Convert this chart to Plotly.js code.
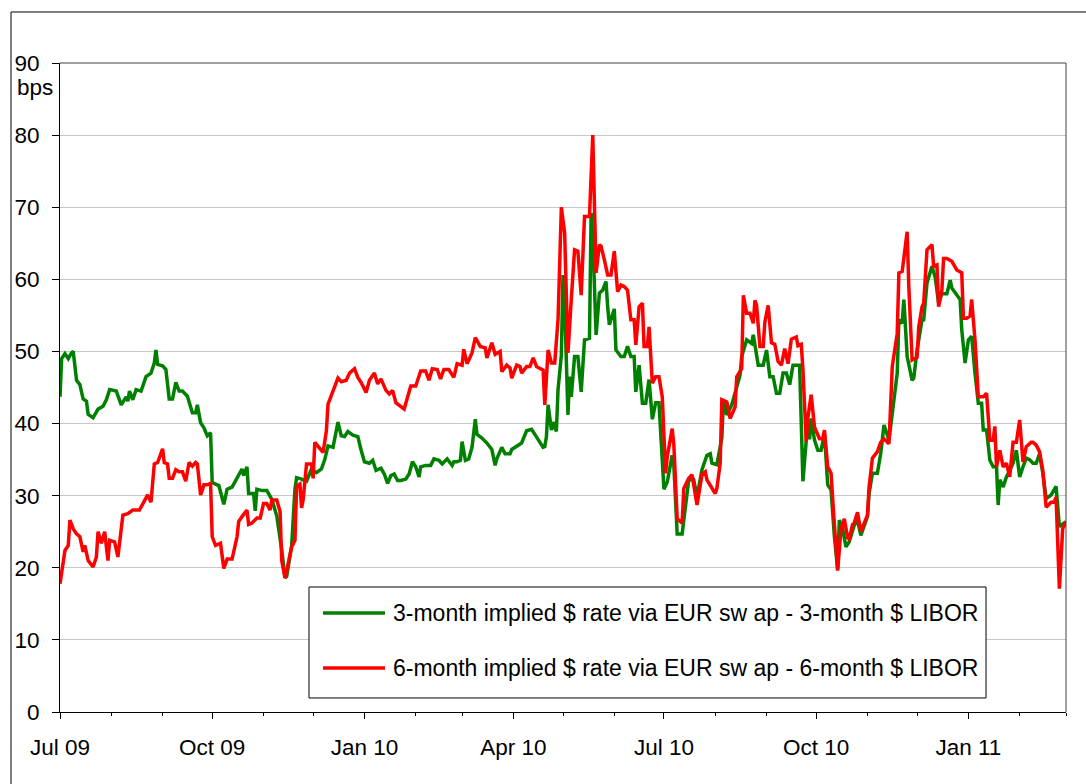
<!DOCTYPE html>
<html><head><meta charset="utf-8">
<script src="https://cdn.plot.ly/plotly-3.0.1.min.js"></script>
<style>html,body{margin:0;padding:0;background:#fff}#chart{width:1086px;height:784px}</style>
</head><body><div id="chart"></div>
<script>
const dates3m = [
"2009-07-01","2009-07-02","2009-07-04","2009-07-06","2009-07-08","2009-07-09","2009-07-11","2009-07-13","2009-07-15","2009-07-17","2009-07-18","2009-07-21","2009-07-24","2009-07-27","2009-07-29","2009-07-31",
"2009-08-04","2009-08-07","2009-08-10","2009-08-11","2009-08-12","2009-08-14","2009-08-16","2009-08-19","2009-08-22","2009-08-25","2009-08-27","2009-08-28","2009-08-29",
"2009-09-01","2009-09-03","2009-09-05","2009-09-07","2009-09-09","2009-09-11","2009-09-13","2009-09-16","2009-09-19","2009-09-21","2009-09-22","2009-09-24","2009-09-26","2009-09-28","2009-09-30",
"2009-10-01","2009-10-03","2009-10-05","2009-10-08","2009-10-10","2009-10-13","2009-10-16","2009-10-19","2009-10-20","2009-10-22","2009-10-23","2009-10-26","2009-10-27","2009-10-28","2009-10-31",
"2009-11-03","2009-11-06","2009-11-09","2009-11-12","2009-11-14","2009-11-15","2009-11-18","2009-11-20","2009-11-21","2009-11-24","2009-11-27","2009-11-30",
"2009-12-03","2009-12-06","2009-12-08","2009-12-10","2009-12-13","2009-12-16","2009-12-18","2009-12-20","2009-12-22","2009-12-25","2009-12-28","2009-12-30",
"2010-01-01","2010-01-04","2010-01-06","2010-01-08","2010-01-11","2010-01-13","2010-01-15","2010-01-17","2010-01-19","2010-01-21","2010-01-23","2010-01-26","2010-01-28","2010-01-30",
"2010-02-01","2010-02-03","2010-02-04","2010-02-07","2010-02-10","2010-02-12","2010-02-15","2010-02-17","2010-02-20","2010-02-23","2010-02-24","2010-02-26","2010-02-28",
"2010-03-01","2010-03-03","2010-03-05","2010-03-07","2010-03-09","2010-03-10","2010-03-13","2010-03-16","2010-03-19","2010-03-21","2010-03-22","2010-03-25","2010-03-27","2010-03-30","2010-03-31",
"2010-04-03","2010-04-06","2010-04-09","2010-04-12","2010-04-14","2010-04-17","2010-04-19","2010-04-20","2010-04-21","2010-04-22","2010-04-24","2010-04-25","2010-04-27","2010-04-28","2010-04-30",
"2010-05-01","2010-05-02","2010-05-04","2010-05-05","2010-05-06","2010-05-08","2010-05-10","2010-05-12","2010-05-14","2010-05-17","2010-05-18","2010-05-19","2010-05-21","2010-05-23","2010-05-25","2010-05-27","2010-05-28","2010-05-29",
"2010-06-01","2010-06-02","2010-06-05","2010-06-07","2010-06-09","2010-06-11","2010-06-13","2010-06-14","2010-06-16","2010-06-18","2010-06-20","2010-06-22","2010-06-24","2010-06-26","2010-06-28",
"2010-07-01","2010-07-03","2010-07-06","2010-07-07","2010-07-09","2010-07-12","2010-07-15","2010-07-16","2010-07-19","2010-07-21","2010-07-24","2010-07-27","2010-07-29","2010-07-30",
"2010-08-02","2010-08-05","2010-08-06","2010-08-08","2010-08-11","2010-08-16","2010-08-17","2010-08-20","2010-08-23","2010-08-24","2010-08-27","2010-08-30",
"2010-09-01","2010-09-03","2010-09-05","2010-09-07","2010-09-09","2010-09-11","2010-09-13","2010-09-15","2010-09-17","2010-09-19","2010-09-21","2010-09-23","2010-09-25","2010-09-26","2010-09-27","2010-09-28","2010-09-30",
"2010-10-02","2010-10-04","2010-10-06","2010-10-08","2010-10-10","2010-10-12","2010-10-14","2010-10-15","2010-10-17","2010-10-19","2010-10-21","2010-10-24","2010-10-26","2010-10-28",
"2010-11-01","2010-11-02","2010-11-04","2010-11-07","2010-11-09","2010-11-11","2010-11-13","2010-11-14","2010-11-16","2010-11-19","2010-11-20","2010-11-22","2010-11-23","2010-11-25","2010-11-28","2010-11-29",
"2010-12-01","2010-12-04","2010-12-05","2010-12-07","2010-12-10","2010-12-12","2010-12-14","2010-12-16","2010-12-19","2010-12-21","2010-12-22","2010-12-25","2010-12-27","2010-12-28","2010-12-30",
"2011-01-01","2011-01-03","2011-01-05","2011-01-07","2011-01-09","2011-01-10","2011-01-12","2011-01-14","2011-01-16","2011-01-18","2011-01-19","2011-01-20","2011-01-22","2011-01-24","2011-01-26","2011-01-28","2011-01-30",
"2011-02-01","2011-02-03","2011-02-05","2011-02-07","2011-02-09","2011-02-11","2011-02-13","2011-02-15","2011-02-17","2011-02-20","2011-02-22","2011-02-23","2011-02-25","2011-02-27",
"2011-03-01"
];
const spread3m = [
43.7,49,49.7,49,49.8,50,46,45.4,43.4,43.1,41.3,40.8,42,42.4,43.3,44.7,
44.5,42.6,43.7,43.1,44.5,43.3,44.7,44.5,46.5,47,48.4,50.2,48.2,
48,47.5,43.4,43.4,45.7,44.5,44.5,43.8,41.5,41.5,42.6,40.1,39.4,38.3,38.7,
31.8,31.6,31.4,28.8,30.9,31.2,32.5,33.7,32.8,34,30.3,30.3,27.9,30.9,30.7,
30.7,29.5,27.2,22.5,18.6,18.8,23,30.9,32.5,32.3,32,33.7,
33.2,33.7,35,36.9,36.7,40.2,38.3,38.2,38.9,38.4,38.2,36.3,
34.7,34.5,34.9,33.5,33.8,33,31.7,32.8,33,32.1,32.1,32.3,33,34.7,
34,32.6,34,34.2,34.2,35.1,34.9,34.4,35.1,34.2,34.7,34.7,34.9,
37.5,34.9,35.1,36.7,40.6,38.5,38,37.3,36.4,34.2,35.1,36.7,35.8,35.8,36.4,
36.9,37.3,39,39.2,38.5,37.3,36.7,36.8,38.2,42.6,39.1,40.2,38.9,44.7,49.5,
60.6,56.7,41.2,46.5,43.7,49.3,49.3,44.4,51.6,51.8,69.2,65.9,52.3,58.1,58.5,59.7,56.2,53.7,
55.9,50.2,49.3,49.3,50.7,49.3,49.3,44.4,48.1,42.8,42.8,46.1,40.6,42.9,42.9,
30.9,31.9,35.6,34.2,24.7,24.7,30.8,32.2,32.2,29.8,33.6,35.6,35.8,34.5,
34.3,38,43.3,41.2,42.6,46.7,49.3,51.6,51.1,52.3,48.1,48.1,
50.2,46.5,46.5,44.2,44.2,47,47,45.4,48.1,48.1,48.1,32,38,40.4,37.8,40.7,37.7,
36.3,36.3,38.6,31.5,30.8,24.4,19.8,26.6,25.4,22.9,23.6,25.9,26.6,24.5,
27.1,30.3,33.1,33.1,35.8,39.8,38.2,37.7,41.4,47,54.4,53.9,57.2,49.3,46,46.3,
50.2,54.4,54.4,59.5,61.8,60.2,56.7,58,58,59.9,58.8,57.9,57.2,53,48.4,
51.6,52.1,47,42.8,42.8,39.1,39.1,34.9,34,34,28.7,32.2,31.2,32.6,33.5,34.5,36.3,
32.6,34,35.2,35,34.5,34.5,35.8,33.1,29.6,30.1,30.8,31.3,25.7,26.1,
26.4
];
const dates6m = [
"2009-07-01","2009-07-02","2009-07-04","2009-07-06","2009-07-07","2009-07-09","2009-07-11","2009-07-13","2009-07-15","2009-07-16","2009-07-18","2009-07-21","2009-07-23","2009-07-24","2009-07-26","2009-07-28","2009-07-30","2009-07-31",
"2009-08-03","2009-08-05","2009-08-08","2009-08-11","2009-08-14","2009-08-18","2009-08-20","2009-08-23","2009-08-25","2009-08-27","2009-08-29",
"2009-09-01","2009-09-02","2009-09-04","2009-09-05","2009-09-07","2009-09-09","2009-09-11","2009-09-13","2009-09-15","2009-09-17","2009-09-19","2009-09-21","2009-09-22","2009-09-24","2009-09-26","2009-09-28","2009-09-30",
"2009-10-01","2009-10-03","2009-10-06","2009-10-08","2009-10-10","2009-10-13","2009-10-16","2009-10-17","2009-10-19","2009-10-22","2009-10-23","2009-10-25","2009-10-28","2009-10-30",
"2009-11-01","2009-11-03","2009-11-05","2009-11-06","2009-11-09","2009-11-11","2009-11-12","2009-11-14","2009-11-15","2009-11-18","2009-11-20","2009-11-21","2009-11-23","2009-11-24","2009-11-25","2009-11-27","2009-11-30",
"2009-12-01","2009-12-02","2009-12-04","2009-12-07","2009-12-09","2009-12-10","2009-12-12","2009-12-14","2009-12-16","2009-12-18","2009-12-21","2009-12-23","2009-12-26","2009-12-28","2009-12-30",
"2010-01-02","2010-01-04","2010-01-07","2010-01-09","2010-01-11","2010-01-14","2010-01-16","2010-01-18","2010-01-20","2010-01-22","2010-01-25","2010-01-27","2010-01-29",
"2010-02-01","2010-02-04","2010-02-07","2010-02-09","2010-02-11","2010-02-14","2010-02-16","2010-02-18","2010-02-21","2010-02-24","2010-02-26",
"2010-03-01","2010-03-02","2010-03-04","2010-03-07","2010-03-09","2010-03-12","2010-03-15","2010-03-16","2010-03-19","2010-03-21","2010-03-24","2010-03-25","2010-03-28","2010-03-30","2010-03-31",
"2010-04-03","2010-04-05","2010-04-06","2010-04-09","2010-04-11","2010-04-13","2010-04-15","2010-04-17","2010-04-19","2010-04-20","2010-04-22","2010-04-24","2010-04-26","2010-04-28","2010-04-30",
"2010-05-02","2010-05-04","2010-05-06","2010-05-08","2010-05-10","2010-05-12","2010-05-14","2010-05-15","2010-05-17","2010-05-19","2010-05-21","2010-05-23","2010-05-24","2010-05-26","2010-05-28","2010-05-30",
"2010-06-01","2010-06-03","2010-06-05","2010-06-07","2010-06-09","2010-06-11","2010-06-13","2010-06-14","2010-06-16","2010-06-18","2010-06-19","2010-06-21","2010-06-22","2010-06-24","2010-06-26","2010-06-28","2010-06-30",
"2010-07-02","2010-07-03","2010-07-06","2010-07-07","2010-07-09","2010-07-12","2010-07-13","2010-07-16","2010-07-18","2010-07-21","2010-07-24","2010-07-26","2010-07-27","2010-07-30",
"2010-08-01","2010-08-02","2010-08-04","2010-08-05","2010-08-08","2010-08-10","2010-08-13","2010-08-14","2010-08-17","2010-08-18","2010-08-20","2010-08-22","2010-08-24","2010-08-25","2010-08-26","2010-08-28","2010-08-30","2010-08-31",
"2010-09-02","2010-09-04","2010-09-06","2010-09-08","2010-09-10","2010-09-12","2010-09-14","2010-09-16","2010-09-19","2010-09-20","2010-09-22","2010-09-23","2010-09-25","2010-09-26","2010-09-28","2010-09-30",
"2010-10-03","2010-10-05","2010-10-06","2010-10-08","2010-10-10","2010-10-12","2010-10-14","2010-10-16","2010-10-18","2010-10-20","2010-10-21","2010-10-23","2010-10-24","2010-10-26","2010-10-28",
"2010-11-01","2010-11-02","2010-11-04","2010-11-07","2010-11-09","2010-11-11","2010-11-14","2010-11-16","2010-11-19","2010-11-20","2010-11-22","2010-11-25","2010-11-26","2010-11-28",
"2010-12-01","2010-12-02","2010-12-04","2010-12-05","2010-12-07","2010-12-10","2010-12-11","2010-12-13","2010-12-14","2010-12-16","2010-12-17","2010-12-19","2010-12-22","2010-12-24","2010-12-25","2010-12-28","2010-12-29","2010-12-31",
"2011-01-02","2011-01-03","2011-01-05","2011-01-07","2011-01-10","2011-01-12","2011-01-14","2011-01-16","2011-01-17","2011-01-18","2011-01-20","2011-01-22","2011-01-24","2011-01-26","2011-01-28","2011-01-30",
"2011-02-01","2011-02-03","2011-02-05","2011-02-08","2011-02-09","2011-02-11","2011-02-13","2011-02-15","2011-02-17","2011-02-20","2011-02-22","2011-02-23","2011-02-25","2011-02-27",
"2011-03-01"
];
const spread6m = [
17.8,19.6,22.4,23.1,26.6,25.4,24.7,24.3,22.2,23.1,21,20.1,21.5,25,23.4,25,21,23.8,
23.6,21.5,27.3,27.5,28,28,28.9,30.1,29.1,34.4,34.6,
36.5,34.6,34.4,32.4,32.4,33.6,33.3,33.3,32,34.6,34.1,34.6,34.4,30.1,31.5,31.5,31.7,
24.3,23.1,23.4,19.9,21.2,21.2,24.3,26.4,27.1,28,26,26.2,26.9,26.9,
28.9,28.9,28,29.4,29.4,27.8,21,18.6,19.6,22.9,23.8,31.3,31.6,28.3,29.5,34.4,34.4,
32.4,37.4,36.9,36,39,42.7,43.9,45.1,46.3,45.8,46,47,47.6,46.4,45.7,
44.3,46,47,45.5,46.2,44.6,44.1,44.6,42.9,42.5,42,43.6,45.2,
45.2,47.3,47.3,46,47.6,47.5,46.2,47.5,47.5,46.4,48.3,
48.1,50.3,48.3,49.8,51.9,50.7,50.5,49.1,51.2,49.6,50,47.2,48.1,47.7,46.3,
48.1,47.9,47,47.9,47.9,49.1,47.9,47.7,47.4,42.6,50.2,48.4,48.4,54.4,70,
66.4,49.8,57.2,64.1,63.9,57.8,68.7,68.7,68.7,80,60.9,64.8,64.6,62.7,60.6,60.6,
63.9,58.3,59.2,59,58.5,54.4,54.4,50.9,56.2,56.7,50.7,50.7,53.4,45.6,46.5,46.5,43.7,
33.1,35.4,39.3,37,26.8,26.2,31,32.4,32.9,28.7,32.9,33.3,32.2,31.1,
30.3,31,34.5,43.3,43,40.7,42.3,46.5,47.6,57.8,55.3,55.3,53.9,57.1,56.4,50.7,50.7,54.1,
56.4,51.2,51,48.6,48.1,50.4,48.3,51.7,52,50.8,51,47.5,37.5,40.8,44,39.5,
37.9,37.9,39.1,34,33.1,26,19.6,25.3,26.8,24.2,24,26,26.2,27.7,25,
27.3,31.2,35.2,36.1,37.4,37.9,37.2,47.9,52.5,60.9,61.1,66.6,59,48.8,
49.2,53.4,56.2,56.7,64.1,64.8,61.8,62,56.2,58.5,62.9,62.9,62.5,61.8,61.3,60.9,54.6,54.6,
54.9,57.2,51.6,43.7,43.7,44.2,37.7,37.7,39.6,34,36.3,34,34.5,32.6,37.4,37.4,
40.5,34.7,36.8,37.4,37.4,37,36.1,33.5,28.4,29.1,29.1,29.8,17.1,25.4,
26.4
];
const seriesNames = [
  "3-month implied $ rate via EUR sw ap - 3-month $ LIBOR",
  "6-month implied $ rate via EUR sw ap - 6-month $ LIBOR"
];
const seriesColors = ["#008000", "#ff0000"];
const yUnitLabel = "bps";
const xRange = ["2009-07-01", "2011-03-01"];
const yRange = [0, 90];

const FONT = "Arial, 'Liberation Sans', sans-serif";

const traces = [
  {x: dates3m, y: spread3m, name: seriesNames[0], type: "scatter", mode: "lines",
   line: {color: seriesColors[0], width: 3.5}, showlegend: false, cliponaxis: false},
  {x: dates6m, y: spread6m, name: seriesNames[1], type: "scatter", mode: "lines",
   line: {color: seriesColors[1], width: 3.5}, showlegend: false, cliponaxis: false}
];

// manual legend geometry (paper coords)
const lgX0 = 0.2475, lgX1 = 0.9205, lgY0 = 0.0216, lgY1 = 0.1926;
const lgRows = [0.1525, 0.0678];
const lgLineX0 = 0.2614, lgLineX1 = 0.3231, lgTextX = 0.329;

const shapes = [
  {type: "line", xref: "paper", yref: "paper", x0: 0, x1: 1, y0: 1, y1: 1, line: {color: "#404040", width: 1}},
  {type: "line", xref: "paper", yref: "paper", x0: 1, x1: 1, y0: 0, y1: 1, line: {color: "#404040", width: 1}},
  {type: "line", xref: "paper", yref: "paper", x0: -0.0487, x1: 1.03, y0: 1.0786, y1: 1.0786, line: {color: "#000", width: 1}},
  {type: "line", xref: "paper", yref: "paper", x0: -0.0487, x1: -0.0487, y0: -0.13, y1: 1.0786, line: {color: "#000", width: 1}},
  {type: "rect", xref: "paper", yref: "paper", x0: lgX0, x1: lgX1, y0: lgY0, y1: lgY1,
   line: {color: "#000", width: 1}, fillcolor: "#fff", layer: "above"},
  {type: "line", xref: "paper", yref: "paper", x0: lgLineX0, x1: lgLineX1, y0: lgRows[0], y1: lgRows[0], line: {color: seriesColors[0], width: 3.5}},
  {type: "line", xref: "paper", yref: "paper", x0: lgLineX0, x1: lgLineX1, y0: lgRows[1], y1: lgRows[1], line: {color: seriesColors[1], width: 3.5}}
];

const annotations = [
  {xref: "paper", yref: "paper", x: -0.0447, y: 0.9615, xanchor: "left", yanchor: "middle",
   text: yUnitLabel, showarrow: false, font: {family: FONT, size: 22.5, color: "#000"}},
  {xref: "paper", yref: "paper", x: lgTextX, y: lgRows[0], xanchor: "left", yanchor: "middle",
   text: seriesNames[0], showarrow: false, font: {family: FONT, size: 23, color: "#000"}},
  {xref: "paper", yref: "paper", x: lgTextX, y: lgRows[1], xanchor: "left", yanchor: "middle",
   text: seriesNames[1], showarrow: false, font: {family: FONT, size: 23, color: "#000"}}
];

const layout = {
  width: 1086, height: 784,
  margin: {l: 60, r: 20, t: 63, b: 72, pad: 0},
  paper_bgcolor: "#fff", plot_bgcolor: "#fff",
  font: {family: FONT, size: 22, color: "#000"},
  showlegend: false,
  xaxis: {
    type: "date", range: xRange, tickformat: "%b %y", dtick: "M3", tick0: "2009-07-01",
    ticks: "outside", ticklen: 6, tickcolor: "#000", tickwidth: 1,
    showline: true, linecolor: "#000", linewidth: 1, showgrid: false, zeroline: false,
    ticklabelstandoff: 9,
    tickfont: {family: FONT, size: 22.5, color: "#000"},
    minor: {dtick: "M1", tick0: "2009-07-01", ticks: "outside", ticklen: 3, tickcolor: "#000", tickwidth: 1, showgrid: false}
  },
  yaxis: {
    range: yRange, dtick: 10, tick0: 0,
    ticks: "outside", ticklen: 7, tickcolor: "#000", tickwidth: 1,
    showline: true, linecolor: "#000", linewidth: 1,
    showgrid: true, gridcolor: "#c8c8c8", gridwidth: 1, zeroline: false,
    ticklabelstandoff: 8,
    tickfont: {family: FONT, size: 22.5, color: "#000"}
  },
  shapes: shapes,
  annotations: annotations
};

Plotly.newPlot("chart", traces, layout, {staticPlot: true, displayModeBar: false});
</script>
</body></html>
